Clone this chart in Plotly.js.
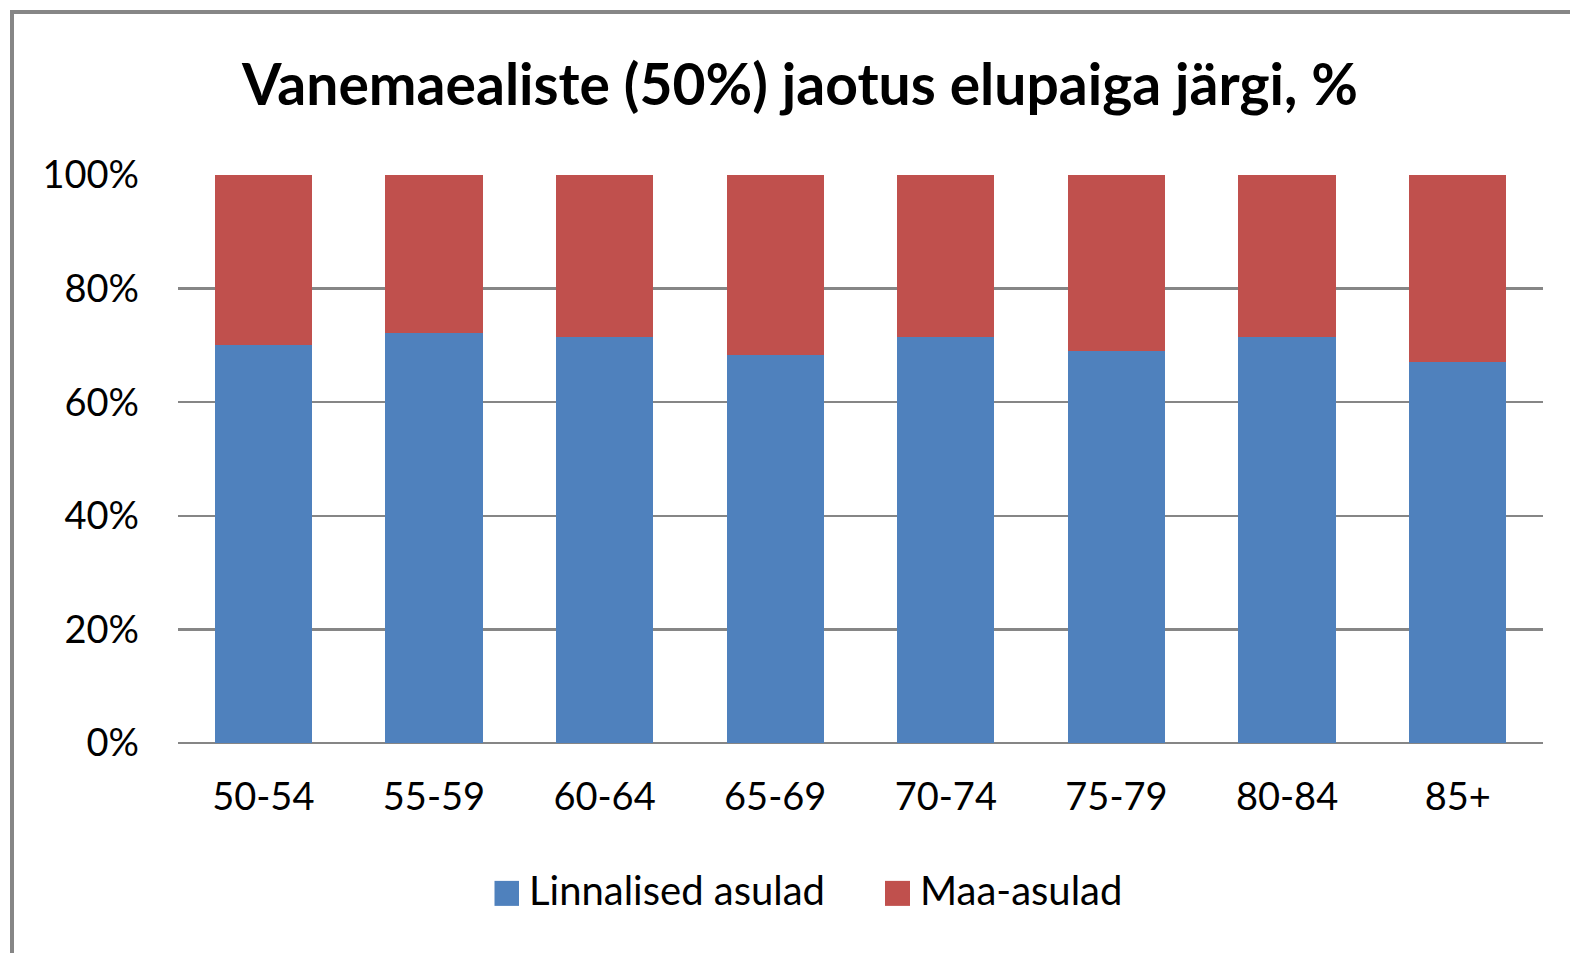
<!DOCTYPE html>
<html>
<head>
<meta charset="utf-8">
<script src="https://cdn.plot.ly/plotly-3.0.1.min.js"></script>
<style>
html,body{margin:0;padding:0;background:#fff;}
#chart{width:1570px;height:953px;}
</style>
</head>
<body>
<div id="chart"></div>
<script>
var categories = ["50-54", "55-59", "60-64", "65-69", "70-74", "75-79", "80-84", "85+"];
var seriesNames = ["Linnalised asulad", "Maa-asulad"];
var urban = [70.0, 72.1, 71.4, 68.3, 71.4, 69.0, 71.4, 67.1];
var rural = urban.map(function (v) { return +(100 - v).toFixed(1); });
var yTickVals = [0, 20, 40, 60, 80, 100];
var yTickText = ["0%", "20%", "40%", "60%", "80%", "100%"];
var titleText = "Vanemaealiste (50%) jaotus elupaiga järgi, %";

var colors = ["#4F81BD", "#C0504D"];
var W = 1570, H = 953;
var L = 178, R = 1543, T = 175, B = 742.7;
function px(x) { return (x - L) / (R - L); }
function py(y) { return (B - y) / (B - T); }

var traces = [
  {type: "bar", x: categories, y: urban, name: seriesNames[0], marker: {color: colors[0]}, hoverinfo: "x+y+name"},
  {type: "bar", x: categories, y: rural, name: seriesNames[1], marker: {color: colors[1]}, hoverinfo: "x+y+name"}
];

var shapes = [
  {type: "rect", xref: "paper", yref: "paper", x0: px(12), x1: px(1600), y0: py(12), y1: py(1000),
   line: {color: "#868686", width: 4}, fillcolor: "rgba(0,0,0,0)", layer: "above"},
  {type: "rect", xref: "paper", yref: "paper", x0: px(494.5), x1: px(519), y0: py(880.5), y1: py(905.5),
   line: {width: 0}, fillcolor: colors[0]},
  {type: "rect", xref: "paper", yref: "paper", x0: px(885), x1: px(910), y0: py(880.5), y1: py(905.5),
   line: {width: 0}, fillcolor: colors[1]}
];

var legendFont = {family: "Lato, 'Liberation Sans', sans-serif", size: 40, color: "#000"};
var annotations = [
  {xref: "paper", yref: "paper", x: px(527), y: py(890), xanchor: "left", yanchor: "middle",
   text: seriesNames[0], showarrow: false, font: legendFont},
  {xref: "paper", yref: "paper", x: px(918), y: py(890), xanchor: "left", yanchor: "middle",
   text: seriesNames[1], showarrow: false, font: legendFont}
];

var layout = {
  width: W, height: H,
  paper_bgcolor: "#fff", plot_bgcolor: "#fff",
  margin: {l: L, r: W - R, t: T, b: H - B, pad: 0},
  barmode: "stack",
  bargap: 0.43,
  showlegend: false,
  title: {
    text: "<b>" + titleText + "</b>",
    x: 800 / W, xref: "container", xanchor: "center",
    y: 1 - 85 / H, yref: "container", yanchor: "middle",
    font: {family: "Lato, 'Liberation Sans', sans-serif", size: 57, color: "#000"}
  },
  xaxis: {
    type: "category",
    showgrid: false, zeroline: false,
    showline: false, ticks: "",
    ticklabelstandoff: 28,
    tickfont: {family: "Lato, 'Liberation Sans', sans-serif", size: 38, color: "#000"}
  },
  yaxis: {
    range: [0, 100],
    tickvals: yTickVals, ticktext: yTickText,
    showgrid: true, gridcolor: "#868686", gridwidth: 2.5,
    zeroline: true, zerolinecolor: "#868686", zerolinewidth: 2.5,
    showline: false, ticks: "",
    ticklabelstandoff: 38,
    tickfont: {family: "Lato, 'Liberation Sans', sans-serif", size: 38, color: "#000"}
  },
  shapes: shapes,
  annotations: annotations
};

Plotly.newPlot("chart", traces, layout, {displayModeBar: false, staticPlot: true});
</script>
</body>
</html>
